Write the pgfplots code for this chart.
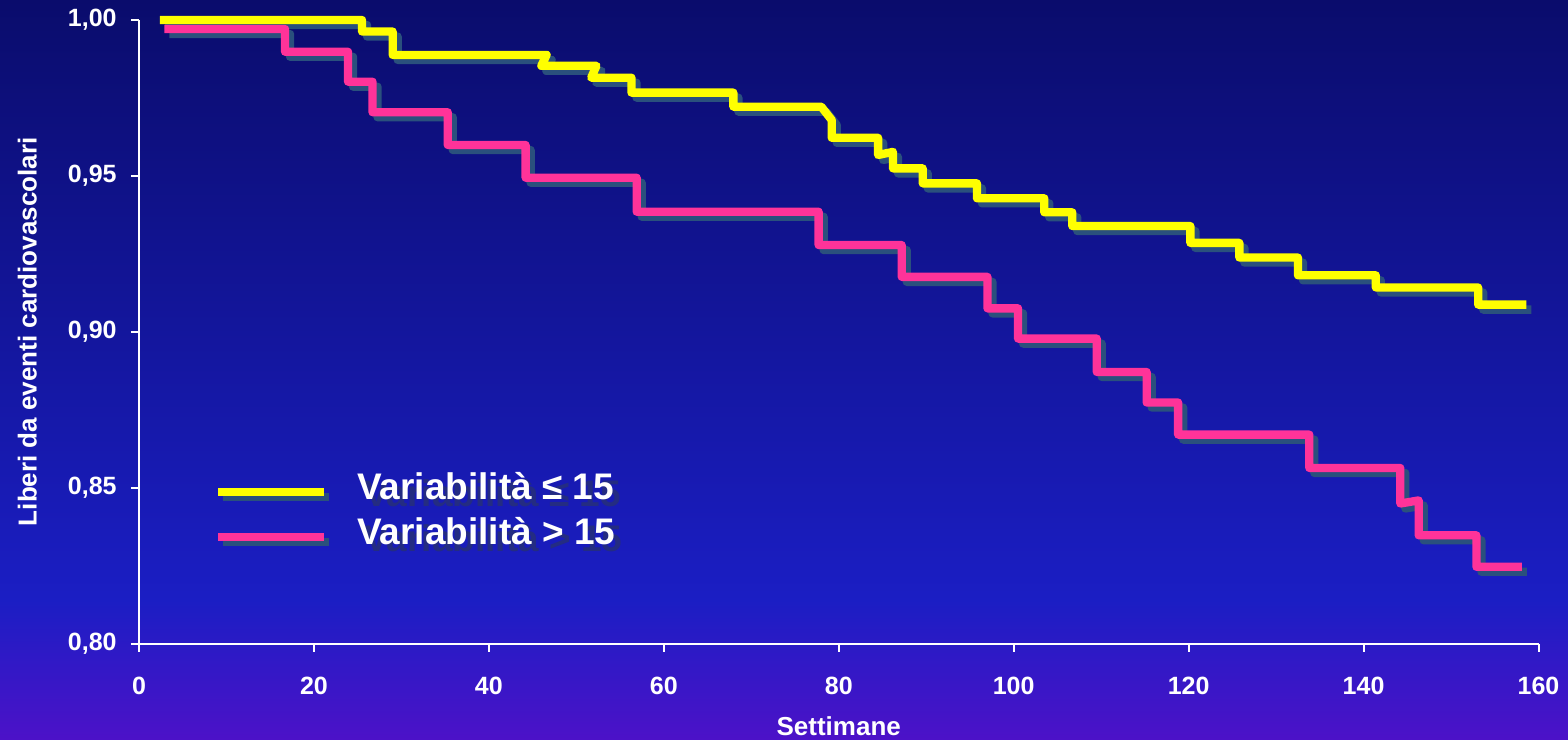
\documentclass[border=0pt]{standalone}
\usepackage{fontspec}
\setmainfont{Liberation Sans}
\usepackage{pgfplots}
\pgfplotsset{compat=1.18}
\usepackage{pgfplotstable}
\definecolor{bgtop}{RGB}{10,12,108}
\definecolor{bgmid}{RGB}{16,20,158}
\definecolor{bglow}{RGB}{27,30,196}
\definecolor{bgbot}{RGB}{76,18,200}
\definecolor{kmyellow}{RGB}{255,255,0}
\definecolor{kmpink}{RGB}{255,51,153}
\definecolor{lineshadow}{RGB}{42,80,125}
\definecolor{txtshadow}{RGB}{36,44,130}

\pgfplotstableread{
x y
2.4 1.0000
25.5 1.0000
25.5 0.9963
29.0 0.9963
29.0 0.9888
46.6 0.9888
46.0 0.9853
52.3 0.9853
51.7 0.9815
56.3 0.9815
56.3 0.9767
67.95 0.9767
67.95 0.9722
78.0 0.9722
79.2 0.9679
79.2 0.9622
84.5 0.9622
84.5 0.9567
86.2 0.9577
86.2 0.9524
89.6 0.9524
89.6 0.9476
95.8 0.9476
95.8 0.9428
103.5 0.9428
103.5 0.9383
106.7 0.9383
106.7 0.9339
120.2 0.9339
120.2 0.9285
125.8 0.9285
125.8 0.9238
132.5 0.9238
132.5 0.9181
141.4 0.9181
141.4 0.9142
153.1 0.9142
153.1 0.9087
158.6 0.9087
}\yellowdata

\pgfplotstableread{
x y
2.9 0.9971
16.7 0.9971
16.7 0.9898
23.9 0.9898
23.9 0.9802
26.7 0.9802
26.7 0.9704
35.3 0.9704
35.3 0.9599
44.2 0.9599
44.2 0.9494
56.9 0.9494
56.9 0.9385
77.7 0.9385
77.7 0.9278
87.2 0.9278
87.2 0.9176
97.0 0.9176
97.0 0.9075
100.5 0.9075
100.5 0.8978
109.5 0.8978
109.5 0.8871
115.2 0.8871
115.2 0.8773
118.8 0.8773
118.8 0.8670
133.8 0.8670
133.8 0.8563
144.2 0.8563
144.2 0.8449
146.3 0.8459
146.3 0.8347
152.9 0.8347
152.9 0.8246
158.1 0.8246
}\pinkdata

\newcommand{\shadowtext}[1]{\makebox[0pt][l]{\hspace{3.5pt}\smash{\raisebox{-3.5pt}{\color{txtshadow}#1}}}#1}

\begin{document}
\begin{tikzpicture}
\shade[top color=bgtop, middle color=bgmid, bottom color=bglow] (-69.5pt,21.5pt) rectangle (714.5pt,321.75pt);
\shade[top color=bglow, bottom color=bgbot] (-69.5pt,-47.75pt) rectangle (714.5pt,21.75pt);
\begin{axis}[
  at={(0pt,0pt)}, anchor=south west,
  scale only axis, width=699.75pt, height=311.75pt,
  xmin=0, xmax=160, ymin=0.8, ymax=1.0,
  clip=false,
  axis lines*=left,
  axis line style={white, line width=1pt},
  xtick={0,20,...,160},
  ytick={0.8,0.85,0.9,0.95,1.0},
  minor tick num=0,
  tick style={white, line width=1pt},
  tick align=outside,
  major tick length=4pt,
  /pgf/number format/assume math mode=true,
  ticklabel style={font=\bfseries\fontsize{12.5}{15}\selectfont, text=white, inner sep=0pt},
  xticklabel style={yshift=-12.4pt},
  yticklabel style={xshift=-7pt, /pgf/number format/.cd, fixed, fixed zerofill, precision=2, use comma},
  every axis x label/.style={at={([yshift=-46pt]axis description cs:0.5,0)}, anchor=base, font=\bfseries\fontsize{13}{15}\selectfont, text=white, inner sep=0pt},
  every axis y label/.style={at={([xshift=-51.2pt]axis description cs:0,0.5)}, anchor=base, rotate=90, font=\bfseries\fontsize{13}{15}\selectfont, text=white, inner sep=0pt},
  xlabel={Settimane},
  ylabel={Liberi da eventi cardiovascolari},
  legend style={at={(axis cs:9,0.8552)}, anchor=north west, draw=none, fill=none, inner sep=0pt,
    row sep=8.5pt, column sep=16.5pt, font=\bfseries\fontsize{18.5}{21}\selectfont, text=white,
    nodes={inner sep=0pt, text height=14pt, text depth=0pt}},
  legend cell align=left,
]
\addplot[forget plot, lineshadow, line width=4.15pt, line join=round, xshift=2.5pt, yshift=-2.5pt] table {\yellowdata};
\addplot[forget plot, lineshadow, line width=4.15pt, line join=round, xshift=2.5pt, yshift=-2.5pt] table {\pinkdata};
\addplot[kmyellow, line width=4.15pt, line join=round,
  legend image code/.code={
    \path[overlay, draw=none, fill=lineshadow] (2.5pt,-7.6pt) rectangle (55.5pt,-3.4pt);
    \path[overlay, draw=none, fill=kmyellow] (0pt,-5.1pt) rectangle (53pt,-0.9pt);
    \path[draw=none, fill=none] (0pt,0pt) rectangle (53pt,0pt);
  }] table {\yellowdata};
\addlegendentry{\shadowtext{Variabilità ≤ 15}}
\addplot[kmpink, line width=4.15pt, line join=round,
  legend image code/.code={
    \path[overlay, draw=none, fill=lineshadow] (2.5pt,-7.6pt) rectangle (55.5pt,-3.4pt);
    \path[overlay, draw=none, fill=kmpink] (0pt,-5.1pt) rectangle (53pt,-0.9pt);
    \path[draw=none, fill=none] (0pt,0pt) rectangle (53pt,0pt);
  }] table {\pinkdata};
\addlegendentry{\shadowtext{Variabilità > 15}}
\end{axis}
\pgfresetboundingbox
\useasboundingbox (-69.5pt,-47.75pt) rectangle (714.5pt,321.75pt);
\end{tikzpicture}
\end{document}
